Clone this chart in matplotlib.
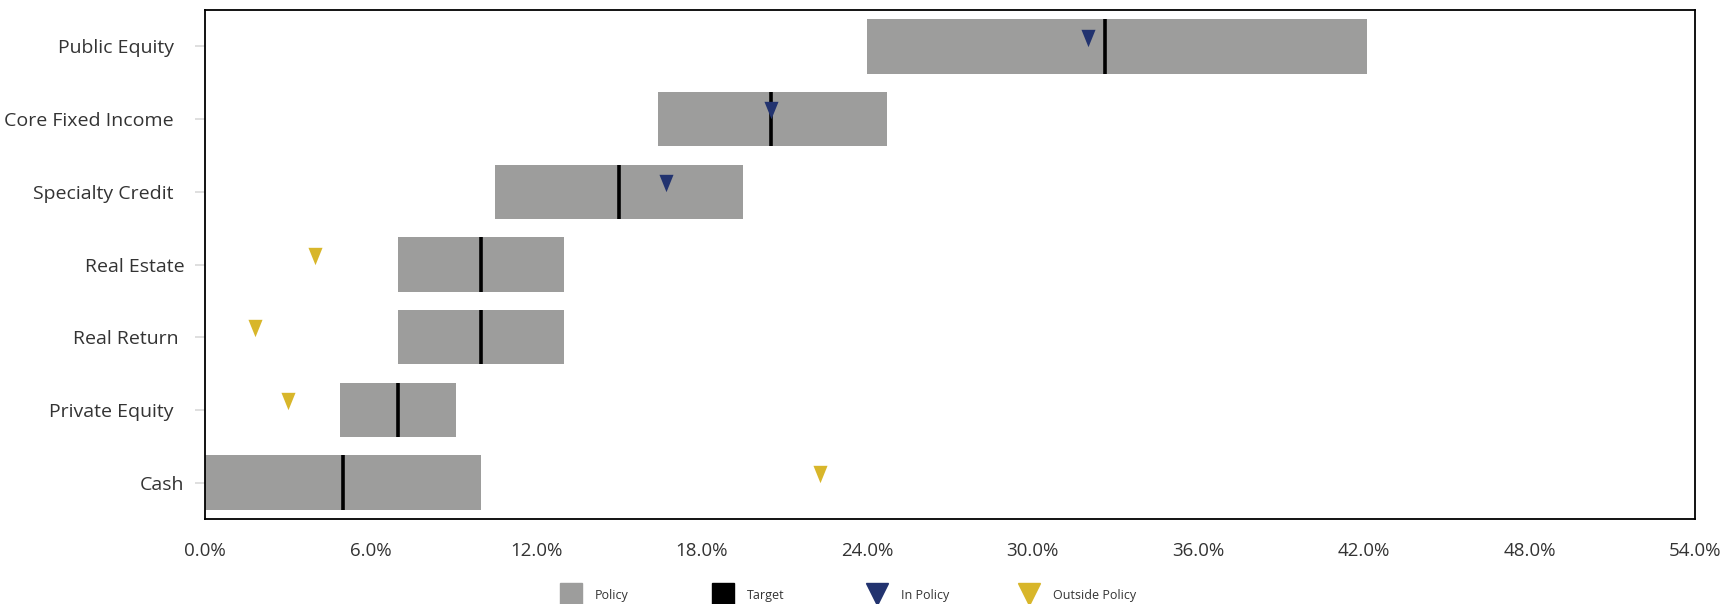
import matplotlib
matplotlib.use("Agg")
import matplotlib.pyplot as plt
from matplotlib.lines import Line2D
from matplotlib.ticker import FuncFormatter, MultipleLocator

plt.rcParams['font.family'] = ['Open Sans', 'DejaVu Sans']

categories = ["Public Equity  ", "Core Fixed Income  ", "Specialty Credit  ",
              "Real Estate", "Real Return ", "Private Equity  ", "Cash"]
policy_low = [24.0, 16.4, 10.5, 7.0, 7.0, 4.9, 0.0]
policy_high = [42.1, 24.7, 19.5, 13.0, 13.0, 9.1, 10.0]
target = [32.6, 20.5, 15.0, 10.0, 10.0, 7.0, 5.0]
actual = [32.0, 20.5, 16.7, 4.0, 1.8, 3.0, 22.3]
in_policy = [True, True, True, False, False, False, False]
legend_labels = ["Policy", "Target", "In Policy", "Outside Policy"]

GRAY = "#9d9d9c"
NAVY = "#22336f"
GOLD = "#d8b62a"
TXT = "#333333"

fig = plt.figure(figsize=(17.34, 6.04), dpi=100)
ax = fig.add_axes([205/1734, 1-519/604, (1695-205)/1734, (519-10)/604])

bar_h = 0.75
ypos = list(range(len(categories)))
widths = [h - l for l, h in zip(policy_low, policy_high)]
ax.barh(ypos, widths, left=policy_low, height=bar_h, color=GRAY, zorder=2)
ax.vlines(target, [y - bar_h/2 for y in ypos], [y + bar_h/2 for y in ypos],
          colors="black", linewidth=2.6, zorder=3)

tri = [(-0.81, 1), (0.81, 1), (0, -1)]
for y, a, ok in zip(ypos, actual, in_policy):
    ax.plot([a], [y - 0.12], linestyle="none", marker=tri, markersize=12.5,
            color=NAVY if ok else GOLD, markeredgewidth=0, zorder=4)

ax.set_xlim(0, 54)
ax.set_ylim(len(categories) - 0.5, -0.5)
ax.set_yticks(ypos)
ax.set_yticklabels(categories)
ax.xaxis.set_major_locator(MultipleLocator(6))
ax.xaxis.set_major_formatter(FuncFormatter(lambda v, p: f"{v:.1f}%"))

ax.tick_params(axis="y", length=7, width=1.2, color="#d9d9d9", pad=8,
               labelsize=14, labelcolor=TXT)
ax.tick_params(axis="x", length=7.5, width=1.2, color="#d9d9d9", pad=9,
               labelsize=13.5, labelcolor=TXT)
xt = ax.xaxis.get_major_ticks()
for t in xt:
    if abs(t.get_loc()) < 1e-9 or abs(t.get_loc() - 54) < 1e-9:
        t.tick1line.set_visible(False)

for s in ax.spines.values():
    s.set_color("black")
    s.set_linewidth(1.3)

# legend: four entries at fixed positions
handles = [
    Line2D([], [], linestyle="none", marker="s", markersize=15.5, color=GRAY),
    Line2D([], [], linestyle="none", marker="s", markersize=15.5, color="black"),
    Line2D([], [], linestyle="none", marker="v", markersize=16, color=NAVY),
    Line2D([], [], linestyle="none", marker="v", markersize=16, color=GOLD),
]
xs = [561, 713, 867, 1019]
for h, lab, x0 in zip(handles, legend_labels, xs):
    leg = fig.legend([h], [lab], loc="center left",
                     bbox_to_anchor=(x0 / 1734, 1 - 595/604),
                     frameon=False, fontsize=9, handlelength=1.6,
                     handletextpad=1.1, borderpad=0, borderaxespad=0,
                     labelcolor=TXT)

fig.savefig("out.png", dpi=100)
